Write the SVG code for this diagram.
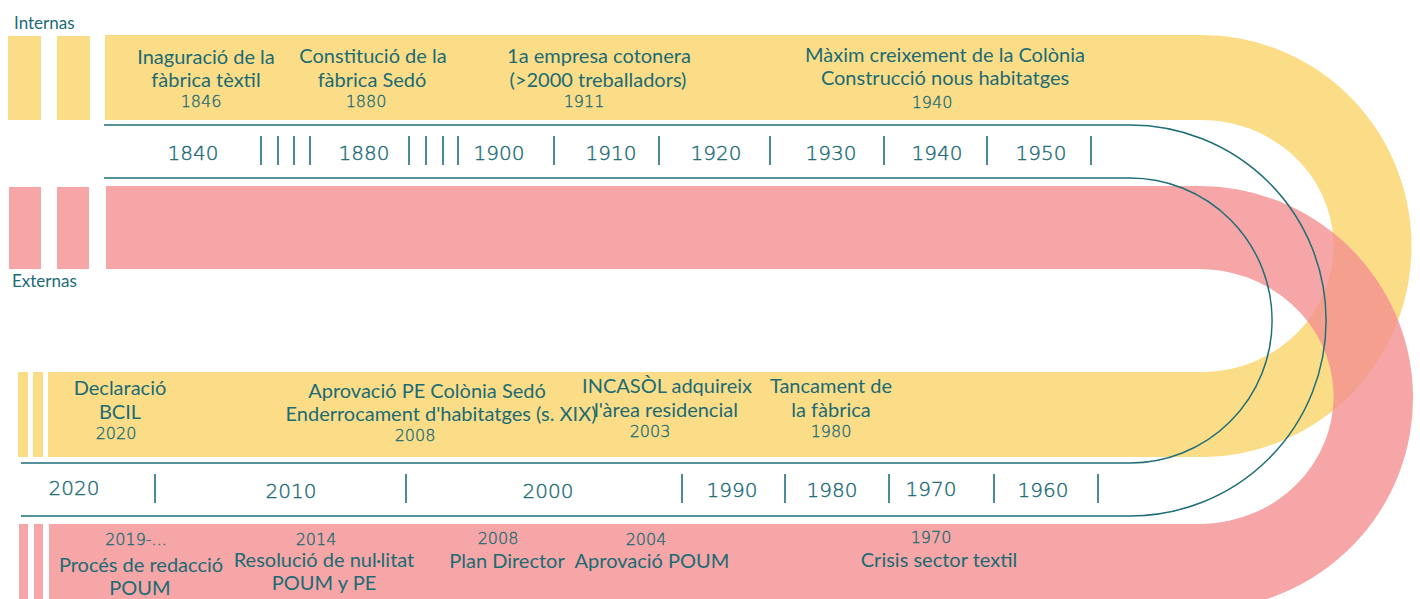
<svg xmlns="http://www.w3.org/2000/svg" width="1420" height="599" viewBox="0 0 1420 599">
<style>
.y{fill:#FBDD88}
.p{fill:#F49090;fill-opacity:0.8}
.ln{fill:none;stroke:#1F6E78;stroke-width:1.5}
.tk{stroke:#1F6E78;stroke-width:1.6}
.t{font-family:Lato,"Open Sans",sans-serif;font-size:20px;fill:#1B6B75;text-anchor:middle}
.lbl{font-family:Lato,"Open Sans",sans-serif;font-size:17px;fill:#1B6B75}
.yr{font-family:"DejaVu Sans",sans-serif;font-weight:300;font-size:16px;fill:#1B6B75;stroke:#1B6B75;stroke-width:0.35;text-anchor:middle}
.ax{font-family:"DejaVu Sans",sans-serif;font-weight:300;font-size:20px;fill:#1B6B75;stroke:#1B6B75;stroke-width:0.4;text-anchor:middle}
</style>
<rect width="1420" height="599" fill="#fff"/>
<g id="bands">
<rect class="y" x="8" y="36" width="33" height="84"/>
<rect class="y" x="57" y="36" width="33" height="84"/>
<rect class="y" x="18" y="372" width="10" height="85"/>
<rect class="y" x="33" y="372" width="10" height="85"/>
<path class="y" d="M105,35 H1198 A105,105.5 0 0 1 1205,457 H48 V372 H1205 A66,63 0 0 0 1198,120 H105 Z"/>
<rect class="p" x="9" y="187" width="32" height="82"/>
<rect class="p" x="57" y="187" width="32" height="82"/>
<rect class="p" x="19" y="524" width="9" height="80"/>
<rect class="p" x="34" y="524" width="9" height="80"/>
<path class="p" d="M106,186 H1195 A107,106 0 0 1 1203,610 H49 V524 H1203 A67,63.5 0 0 0 1195,269 H106 Z"/>
</g>
<g id="connectors">
<path class="ln" d="M104,125 H1130 A98,97.7 0 0 1 1130,516 H21"/>
<path class="ln" d="M104,178 H1130 A71,71.2 0 0 1 1130,463 H21"/>
<g class="tk">
<line x1="261" y1="136" x2="261" y2="165"/><line x1="278" y1="136" x2="278" y2="165"/>
<line x1="294" y1="136" x2="294" y2="165"/><line x1="310" y1="136" x2="310" y2="165"/>
<line x1="409" y1="136" x2="409" y2="165"/><line x1="426" y1="136" x2="426" y2="165"/>
<line x1="443" y1="136" x2="443" y2="165"/><line x1="458" y1="136" x2="458" y2="165"/>
<line x1="554" y1="136" x2="554" y2="165"/><line x1="659" y1="136" x2="659" y2="165"/>
<line x1="770" y1="136" x2="770" y2="165"/><line x1="884" y1="136" x2="884" y2="165"/>
<line x1="987" y1="136" x2="987" y2="165"/><line x1="1091" y1="136" x2="1091" y2="165"/>
<line x1="155" y1="474" x2="155" y2="503"/><line x1="406" y1="474" x2="406" y2="503"/>
<line x1="682" y1="474" x2="682" y2="503"/><line x1="785" y1="474" x2="785" y2="503"/>
<line x1="889" y1="474" x2="889" y2="503"/><line x1="994" y1="474" x2="994" y2="503"/>
<line x1="1098" y1="474" x2="1098" y2="503"/>
</g>
</g>
<g id="legend">
<text class="lbl" x="14" y="29">Internas</text>
<text class="lbl" x="12" y="287">Externas</text>
</g>
<g id="axis-top">
<text class="ax" x="193" y="160">1840</text>
<text class="ax" x="364" y="160">1880</text>
<text class="ax" x="499" y="160">1900</text>
<text class="ax" x="611" y="160">1910</text>
<text class="ax" x="716" y="160">1920</text>
<text class="ax" x="831" y="160">1930</text>
<text class="ax" x="937" y="160">1940</text>
<text class="ax" x="1041" y="160">1950</text>
</g>
<g id="axis-bottom">
<text class="ax" x="74" y="495">2020</text>
<text class="ax" x="291" y="498">2010</text>
<text class="ax" x="548" y="498">2000</text>
<text class="ax" x="732" y="497">1990</text>
<text class="ax" x="832" y="497">1980</text>
<text class="ax" x="931" y="496">1970</text>
<text class="ax" x="1043" y="497">1960</text>
</g>
<g id="ev-1846"><text class="t" x="206" y="64">Inaguració de la</text><text class="t" x="206" y="87">fàbrica tèxtil</text><text class="yr" x="201" y="107">1846</text></g>
<g id="ev-1880"><text class="t" x="373" y="63">Constitució de la</text><text class="t" x="372" y="87">fàbrica Sedó</text><text class="yr" x="366" y="107">1880</text></g>
<g id="ev-1911"><text class="t" x="599" y="63">1a empresa cotonera</text><text class="t" x="598" y="87">(&gt;2000 treballadors)</text><text class="yr" x="584" y="107">1911</text></g>
<g id="ev-1940"><text class="t" x="945" y="62">Màxim creixement de la Colònia</text><text class="t" x="945" y="85">Construcció nous habitatges</text><text class="yr" x="932" y="108">1940</text></g>
<g id="ev-2020"><text class="t" x="120" y="395">Declaració</text><text class="t" x="120" y="419">BCIL</text><text class="yr" x="116" y="439">2020</text></g>
<g id="ev-2008a"><text class="t" x="427" y="398">Aprovació PE Colònia Sedó</text><text class="t" x="441" y="421">Enderrocament d'habitatges (s. XIX)</text><text class="yr" x="415" y="441">2008</text></g>
<g id="ev-2003"><text class="t" x="667" y="393">INCASÒL adquireix</text><text class="t" x="666" y="417">l'àrea residencial</text><text class="yr" x="650" y="437">2003</text></g>
<g id="ev-1980"><text class="t" x="831" y="393">Tancament de</text><text class="t" x="831" y="417">la fàbrica</text><text class="yr" x="831" y="437">1980</text></g>
<g id="ev-2019"><text class="yr" x="136" y="545">2019-...</text><text class="t" x="141" y="572">Procés de redacció</text><text class="t" x="140" y="595">POUM</text></g>
<g id="ev-2014"><text class="yr" x="316" y="545">2014</text><text class="t" x="324" y="567">Resolució de nul·litat</text><text class="t" x="324" y="590">POUM y PE</text></g>
<g id="ev-2008b"><text class="yr" x="498" y="544">2008</text><text class="t" x="507" y="568">Plan Director</text></g>
<g id="ev-2004"><text class="yr" x="646" y="545">2004</text><text class="t" x="652" y="568">Aprovació POUM</text></g>
<g id="ev-1970"><text class="yr" x="931" y="543">1970</text><text class="t" x="939" y="567">Crisis sector textil</text></g>
</svg>
